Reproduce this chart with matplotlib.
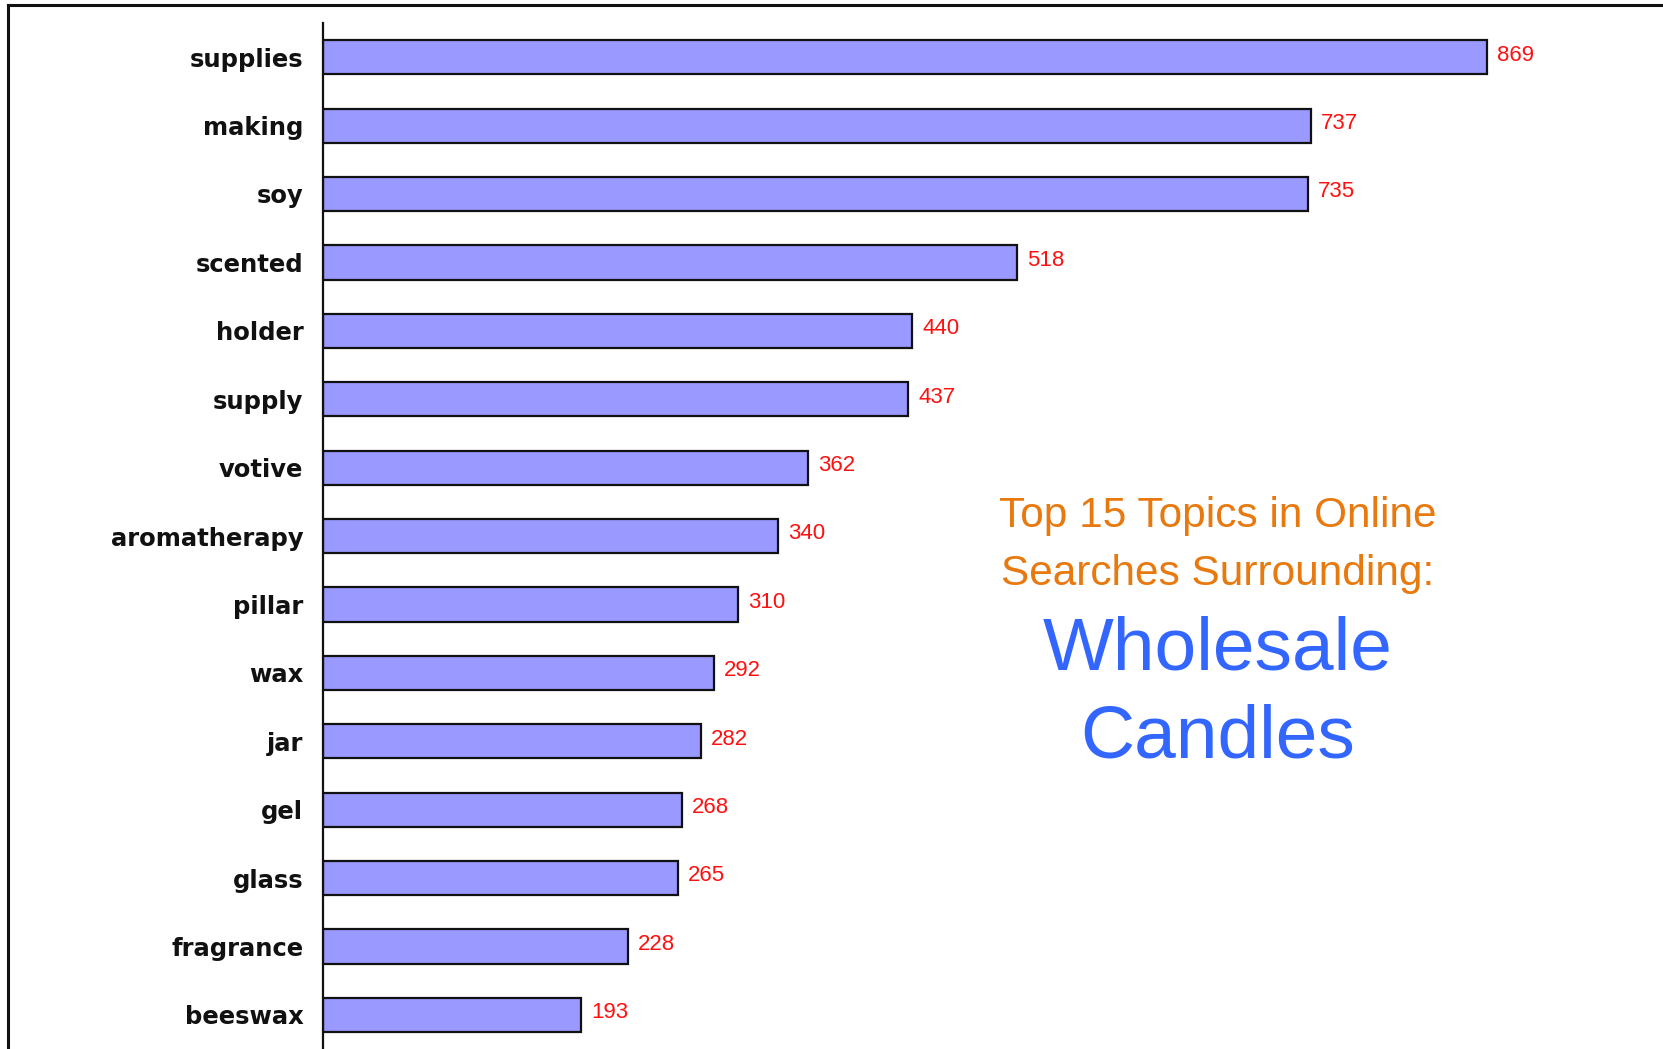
import matplotlib
matplotlib.use("Agg")
import matplotlib.pyplot as plt
import matplotlib.transforms as mtransforms
from matplotlib.lines import Line2D

# data, top to bottom
topics = ["supplies", "making", "soy", "scented", "holder", "supply", "votive",
          "aromatherapy", "pillar", "wax", "jar", "gel", "glass", "fragrance", "beeswax"]
counts = [869, 737, 735, 518, 440, 437, 362, 340, 310, 292, 282, 268, 265, 228, 193]

W, H = 1663, 1049
fig = plt.figure(figsize=(W / 100, H / 100), dpi=100)

# axes: left edge at the vertical axis line, running off the right and bottom
ax = fig.add_axes([322.7 / W, 0, 1 - 322.7 / W, (H - 23) / H])
ypos = list(range(len(topics)))
ax.barh(ypos, counts, height=0.5, color="#9999ff", edgecolor="#111111", linewidth=1.6)
ax.set_ylim(len(topics) - 0.5, -0.5)
ax.set_xlim(0, 1000)

for y, v in zip(ypos, counts):
    ax.text(v + 7.5, y - 0.03, str(v), color="#ff1010", va="center", ha="left",
            fontsize=16, family=["Liberation Sans Narrow", "Liberation Sans"])

ax.set_yticks(ypos)
ax.set_yticklabels(topics, fontsize=17.5, fontweight="bold", color="#111111")
# labels sit a touch above the bar centres in the original
shift = mtransforms.ScaledTranslation(0, 3 / 100, fig.dpi_scale_trans)
for lab in ax.get_yticklabels():
    lab.set_transform(lab.get_transform() + shift)
ax.tick_params(axis="y", length=0, pad=14)
ax.set_xticks([])
for s in ["top", "right", "bottom"]:
    ax.spines[s].set_visible(False)
ax.spines["left"].set_linewidth(1.6)
ax.spines["left"].set_color("#111111")

# outer frame (only left and top edges show in the crop)
fig.add_artist(Line2D([8 / W, 8 / W], [0, 1 - 5 / H], transform=fig.transFigure,
                      color="#111111", linewidth=2.2))
fig.add_artist(Line2D([8 / W, 1], [1 - 5 / H, 1 - 5 / H], transform=fig.transFigure,
                      color="#111111", linewidth=2.2))

# title block
cx = 1218 / W
fig.text(cx, 1 - 527 / H, "Top 15 Topics in Online", color="#e8790f", fontsize=30.5,
         ha="center", va="baseline", family="Liberation Sans")
fig.text(cx, 1 - 585 / H, "Searches Surrounding:", color="#e8790f", fontsize=30.5,
         ha="center", va="baseline", family="Liberation Sans")
fig.text(cx, 1 - 670 / H, "Wholesale", color="#3366ff", fontsize=54,
         ha="center", va="baseline", family="Liberation Sans")
fig.text(cx, 1 - 758 / H, "Candles", color="#3366ff", fontsize=54,
         ha="center", va="baseline", family="Liberation Sans")

fig.savefig("out.png", dpi=100, facecolor="white")
